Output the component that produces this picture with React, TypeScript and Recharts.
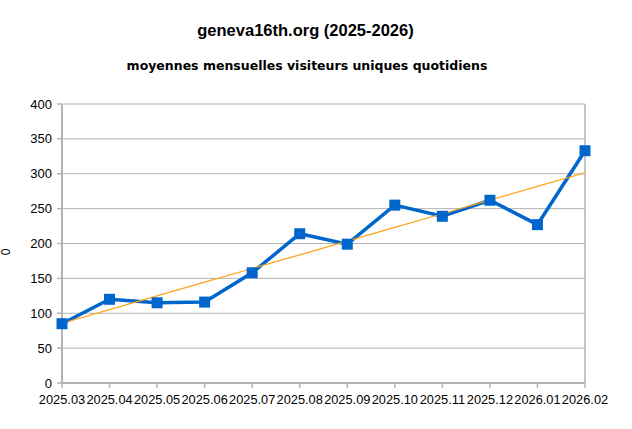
import React from 'react';
import { LineChart, Line, XAxis, YAxis, CartesianGrid, ReferenceLine } from 'recharts';

const categories = ['2025.03','2025.04','2025.05','2025.06','2025.07','2025.08','2025.09','2025.10','2025.11','2025.12','2026.01','2026.02'];
const visitors = [85, 120, 115, 116, 158, 214, 199, 255, 239, 262, 227, 333];
const yTicks = [0, 50, 100, 150, 200, 250, 300, 350, 400];
const title = 'geneva16th.org (2025-2026)';
const subtitle = 'moyennes mensuelles visiteurs uniques quotidiens';
const yLabel = '0';

// linear regression trend line computed from the data
const n = visitors.length;
const meanX = (n - 1) / 2;
const meanY = visitors.reduce((a, b) => a + b, 0) / n;
const sxy = visitors.reduce((a, y, i) => a + (i - meanX) * (y - meanY), 0);
const sxx = visitors.reduce((a, _y, i) => a + (i - meanX) * (i - meanX), 0);
const slope = sxy / sxx;
const intercept = meanY - slope * meanX;

const data = categories.map((c, i) => ({ month: c, value: visitors[i], trend: intercept + slope * i }));

const FONT = '"Liberation Sans", Arial, sans-serif';
const GRID = '#b3b3b3';
const BLUE = '#0066cc';

const SquareDot = (props: any) => {
  const { cx, cy, index } = props;
  if (cx == null || cy == null) return null;
  const s = 11;
  return <rect key={'d' + index} x={cx - s / 2} y={cy - s / 2} width={s} height={s} fill={BLUE} />;
};

export default function App() {
  return (
    <div style={{ position: 'absolute', left: 0, top: 0, width: 632, height: 429, background: '#fff', fontFamily: FONT }}>
      <div style={{ position: 'absolute', left: 0, top: 21, width: 611, textAlign: 'center', fontSize: 16.5, fontWeight: 'bold', color: '#000' }}>{title}</div>
      <div style={{ position: 'absolute', left: 0, top: 58, width: 614, textAlign: 'center', fontSize: 12.5, fontWeight: 'bold', color: '#000', fontFamily: '"DejaVu Sans", sans-serif' }}>{subtitle}</div>
      <svg style={{ position: 'absolute', left: 0, top: 0 }} width={20} height={429}>
        <text x={10} y={252} transform="rotate(-90 10 252)" textAnchor="middle" fontFamily={FONT} fontSize={12} fill="#000">{yLabel}</text>
      </svg>
      <div style={{ position: 'absolute', left: 0, top: 0 }}>
        <LineChart width={632} height={429} data={data} margin={{ top: 104, right: 47, bottom: 16, left: 22 }}>
          <CartesianGrid vertical={false} stroke={GRID} strokeWidth={1} />
          <XAxis
            dataKey="month"
            interval={0}
            height={30}
            stroke={GRID}
            strokeWidth={2}
            tickSize={5}
            tickMargin={7}
            tick={{ fill: '#000', fontSize: 12.8, fontFamily: FONT }}
            tickLine={{ stroke: GRID, strokeWidth: 1.5 }}
          />
          <YAxis
            width={40}
            domain={[0, 400]}
            ticks={yTicks}
            interval={0}
            stroke={GRID}
            strokeWidth={2}
            tickSize={5}
            tickMargin={5}
            tick={{ fill: '#000', fontSize: 13, fontFamily: FONT }}
            tickLine={{ stroke: GRID, strokeWidth: 1.5 }}
          />
          <ReferenceLine x="2026.02" stroke={GRID} strokeWidth={1.5} />
          <Line type="linear" dataKey="value" stroke={BLUE} strokeWidth={3.5} dot={SquareDot} activeDot={false} isAnimationActive={false} />
          <Line type="linear" dataKey="trend" stroke="#ffa31a" strokeWidth={1.2} dot={false} activeDot={false} isAnimationActive={false} />
        </LineChart>
      </div>
    </div>
  );
}
